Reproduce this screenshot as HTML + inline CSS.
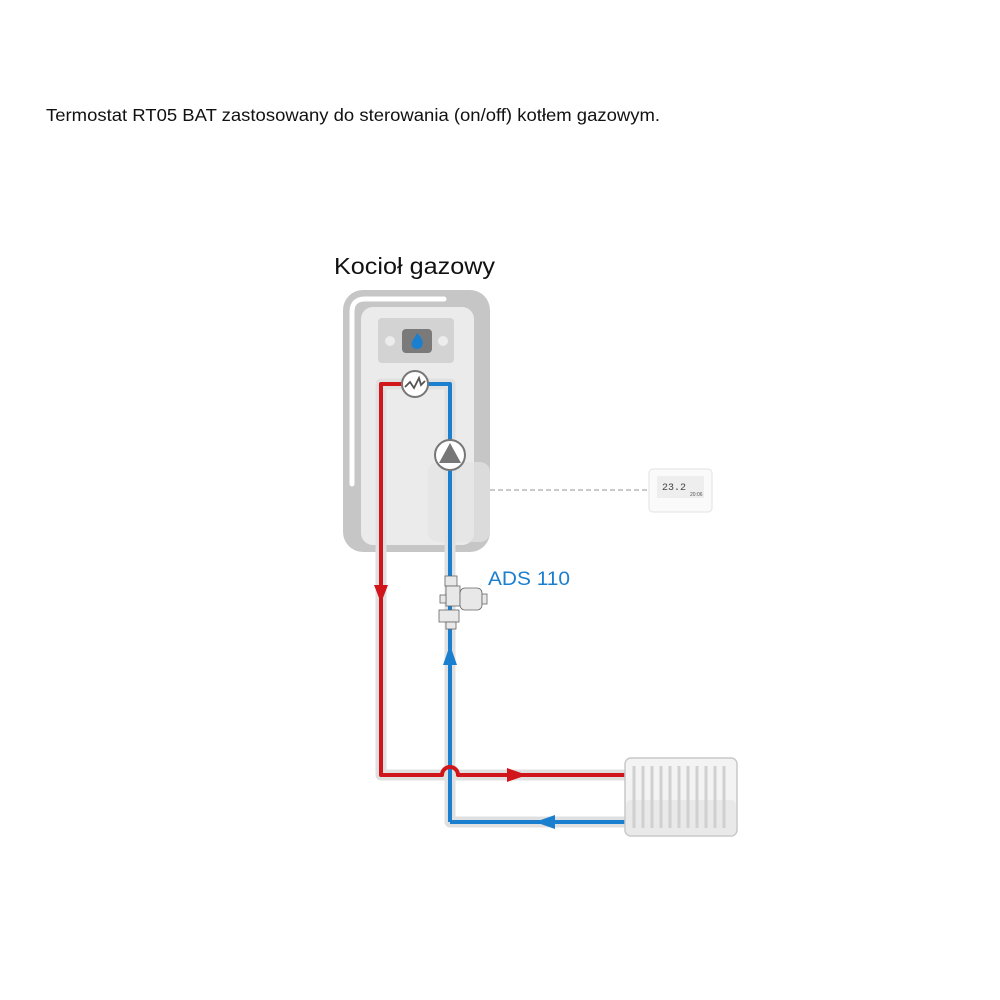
<!DOCTYPE html>
<html><head><meta charset="utf-8"><style>
html,body{margin:0;padding:0;background:#fff;}
body{width:1000px;height:1000px;overflow:hidden;position:relative;font-family:"Liberation Sans",sans-serif;}
</style></head><body>
<svg width="1000" height="1000" viewBox="0 0 1000 1000" xmlns="http://www.w3.org/2000/svg" style="position:absolute;left:0;top:0">
<text x="46" y="121" font-size="17.5" fill="#111" font-family="Liberation Sans, sans-serif" textLength="614" lengthAdjust="spacingAndGlyphs">Termostat RT05 BAT zastosowany do sterowania (on/off) kotłem gazowym.</text>
<text x="334" y="274" font-size="23.5" fill="#111" font-family="Liberation Sans, sans-serif" textLength="161" lengthAdjust="spacingAndGlyphs">Kocioł gazowy</text>
<!-- boiler -->
<rect x="343" y="290" width="147" height="262" rx="20" fill="#c6c6c6"/>
<path d="M352 484 V312 Q352 299 365 299 H444" stroke="#fff" stroke-width="5" fill="none" stroke-linecap="round"/>
<rect x="361" y="307" width="113" height="238" rx="12" fill="#ebebeb"/>
<rect x="378" y="318" width="76" height="45" rx="4" fill="#d3d3d3"/>
<circle cx="390" cy="341" r="5" fill="#ececec"/><circle cx="443" cy="341" r="5" fill="#ececec"/>
<rect x="402" y="329" width="30" height="24" rx="4" fill="#7a7a7a"/>
<path d="M417 333 C422 338 424 342 422 346 C420 350 414 350 412 346 C410 342 414 340 417 333 Z" fill="#1a7fcf"/>
<rect x="428" y="462" width="62" height="80" rx="10" fill="#e4e4e4" opacity="0.7"/>
<!-- dashed -->
<line x1="490" y1="490" x2="648" y2="490" stroke="#aaa" stroke-width="1.2" stroke-dasharray="5,3"/>
<!-- pipe outlines -->
<g stroke="#e0e0e0" stroke-width="11" fill="none" stroke-linejoin="round">
<path d="M450 384 H381 V775 H625"/>
<path d="M415 384 H450 V822 H625"/>
</g>
<g stroke-width="4" fill="none" stroke-linejoin="round">
<path d="M450 822 V384 H415" stroke="#1a7fcf"/>
<path d="M625 822 H450" stroke="#1a7fcf"/>
<path d="M415 384 H381 V775 H442 A8 8 0 0 1 458 775 H625" stroke="#d0161b"/>
</g>
<!-- arrows -->
<polygon points="374,585 388,585 381,603" fill="#d0161b"/>
<polygon points="507,768 507,782 527,775" fill="#d0161b"/>
<polygon points="443,665 457,665 450,645" fill="#1a7fcf"/>
<polygon points="555,815 555,829 535,822" fill="#1a7fcf"/>
<!-- heat exchanger -->
<circle cx="415" cy="384" r="13" fill="#fff" stroke="#777" stroke-width="2"/>
<path d="M405 387 L410 382 L414 388 L419 378 L421 385 L425 381" stroke="#555" stroke-width="1.8" fill="none"/>
<!-- pump -->
<circle cx="450" cy="455" r="15" fill="#fff" stroke="#777" stroke-width="2"/>
<polygon points="450,443 461,463 439,463" fill="#777"/>
<!-- ADS -->
<g stroke="#666" stroke-width="0.8" fill="#e8e8e8">
<rect x="445" y="576" width="12" height="10"/>
<rect x="446" y="586" width="14" height="20"/>
<rect x="460" y="588" width="22" height="22" rx="5"/>
<rect x="482" y="594" width="5" height="10"/>
<rect x="440" y="595" width="6" height="8"/>
<rect x="439" y="610" width="20" height="12"/>
<rect x="446" y="622" width="10" height="7"/>
</g>
<text x="488" y="585" font-size="19" fill="#1a7fcf" font-family="Liberation Sans, sans-serif" textLength="82" lengthAdjust="spacingAndGlyphs">ADS 110</text>
<!-- radiator -->
<rect x="625" y="758" width="112" height="78" rx="6" fill="#f3f3f3" stroke="#c8c8c8" stroke-width="1.5"/>
<rect x="626" y="800" width="110" height="35" rx="5" fill="#e9e9e9"/>
<g stroke="#d0d0d0" stroke-width="3">
<line x1="634" y1="766" x2="634" y2="828"/><line x1="643" y1="766" x2="643" y2="828"/><line x1="652" y1="766" x2="652" y2="828"/><line x1="661" y1="766" x2="661" y2="828"/><line x1="670" y1="766" x2="670" y2="828"/><line x1="679" y1="766" x2="679" y2="828"/><line x1="688" y1="766" x2="688" y2="828"/><line x1="697" y1="766" x2="697" y2="828"/><line x1="706" y1="766" x2="706" y2="828"/><line x1="715" y1="766" x2="715" y2="828"/><line x1="724" y1="766" x2="724" y2="828"/>
</g>
<!-- thermostat -->
<rect x="649" y="469" width="63" height="43" rx="4" fill="#fafafa" stroke="#e2e2e2"/>
<rect x="657" y="476" width="47" height="22" fill="#eee"/>
<text x="662" y="490" font-size="10" fill="#444" font-family="Liberation Mono, monospace">23.2</text>
<text x="690" y="496" font-size="5" fill="#555" font-family="Liberation Sans, sans-serif">20:06</text>
</svg>
</body></html>
